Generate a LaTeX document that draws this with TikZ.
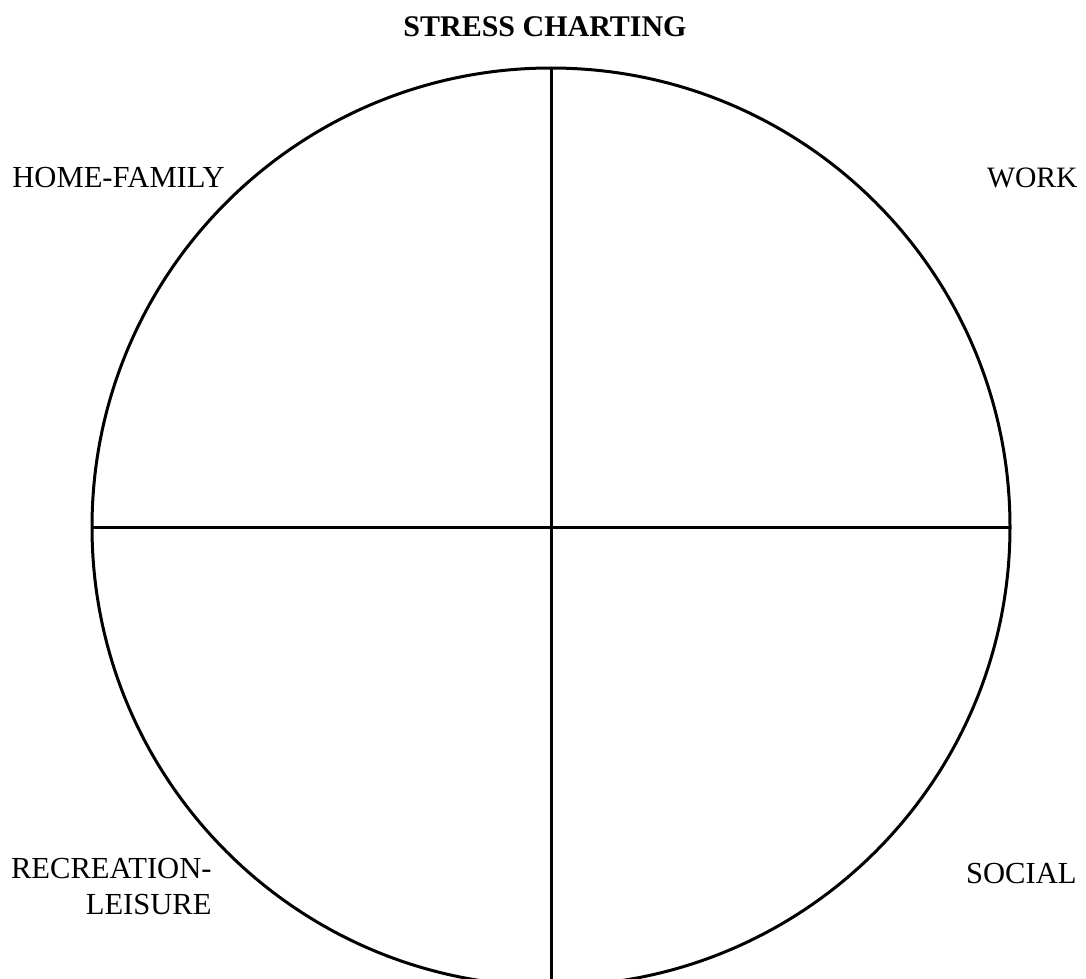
\documentclass[tikz,border=0pt]{standalone}
\usepackage{fontspec}
\setmainfont{Liberation Serif}
\usetikzlibrary{positioning}
\tikzset{
  ringnode/.style={circle,draw=black,line width=1.5pt,minimum size=459pt,
                   inner sep=0pt,outer sep=0pt},
  divider/.style={line width=1.5pt},
  titlenode/.style={inner sep=0pt,font=\fontsize{15}{18}\selectfont\bfseries},
  areanode/.style={inner sep=0pt,font=\fontsize{15.3}{18}\selectfont}
}
\begin{document}
\begin{tikzpicture}[x=0.5pt,y=-0.5pt]
  \useasboundingbox (0,0) rectangle (1086,979);
  \clip (0,0) rectangle (1086,979);
  \node[ringnode] (chart) at (551,527) {};
  \node[titlenode,anchor=base] (title) at (545,37) {STRESS CHARTING};

  \draw[divider] (chart.north) -- (chart.south);
  \draw[divider] (chart.west) -- (chart.east);

  \node[areanode,anchor=base west] (home) at (12,187) {HOME-FAMILY};
  \node[areanode,font=\fontsize{14.8}{18}\selectfont,anchor=base east]
      (work) at (1078,187) {WORK};
  \node[areanode,anchor=north east,align=right] (recre) at (212,858)
      {RECREATION-\\LEISURE};
  \node[areanode,anchor=base east] (social) at (1077,883) {SOCIAL};
\end{tikzpicture}
\end{document}
